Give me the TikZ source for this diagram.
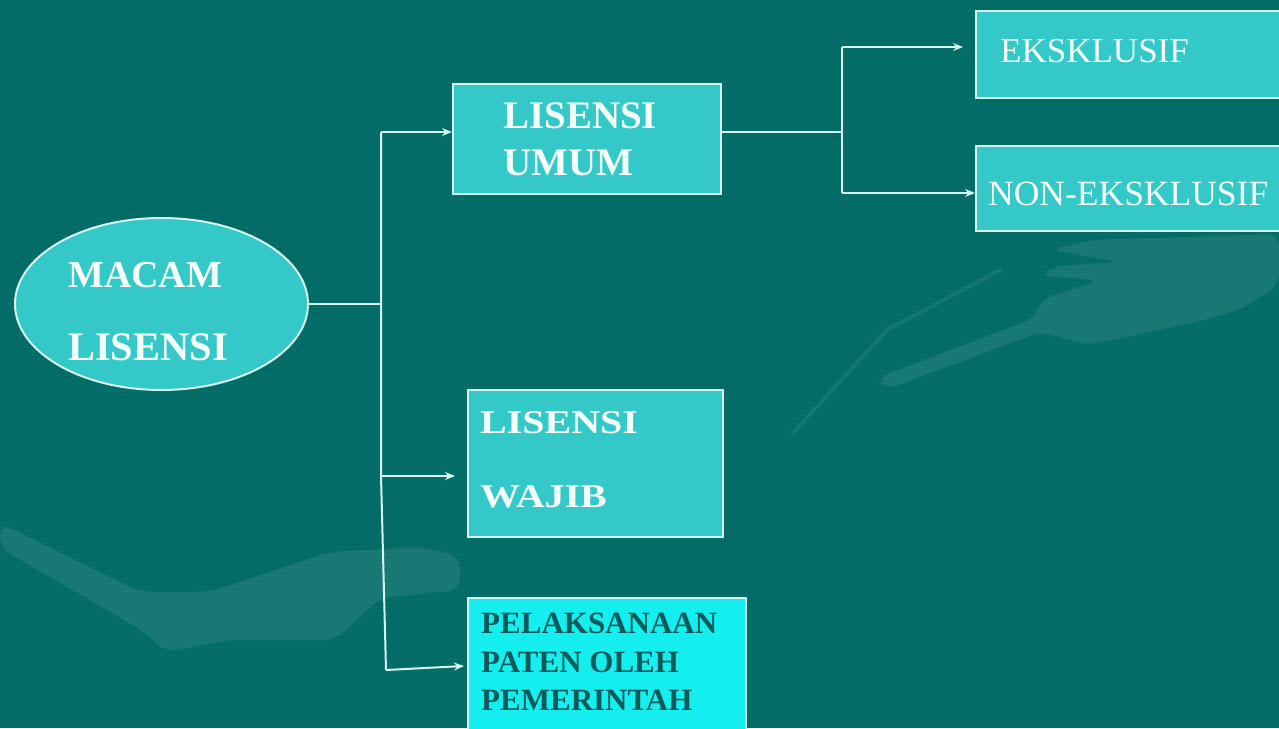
\documentclass[tikz,border=0pt]{standalone}
\usepackage{fontspec}
\setmainfont{Liberation Serif}
\usetikzlibrary{arrows.meta,shapes.geometric}
\definecolor{bg}{RGB}{4,110,105}
\definecolor{boxfill}{RGB}{52,200,200}
\definecolor{brightfill}{RGB}{20,238,238}
\definecolor{edge}{RGB}{214,244,238}
\definecolor{txt}{RGB}{244,255,250}
\definecolor{darktxt}{RGB}{14,90,90}
\tikzset{
  box/.style={draw=edge, line width=2pt, fill=boxfill, rectangle, anchor=north west, inner sep=0pt},
  lbl/.style={anchor=base west, inner sep=0pt, text=txt, font=\bfseries},
  conn/.style={draw=edge, line width=2pt},
  arr/.style={conn, -{Stealth[length=10pt,width=8pt]}},
  swoosh/.style={fill=white, opacity=0.09, rounded corners=12pt}
}
\begin{document}
\begin{tikzpicture}[x=1pt,y=-1pt]
\useasboundingbox (0,0) rectangle (1279,728);
\fill[bg] (0,0) rectangle (1279,728);
% faint stripes
\foreach \yy in {0,4,...,728} {\fill[black, opacity=0.03] (0,\yy) rectangle (1279,\yy+1.5);}
% faint background decoration
\fill[swoosh] (0,523) -- (140,592) -- (210,592) -- (330,552) -- (420,547) -- (460,556) -- (460,590) -- (380,598) -- (335,640) -- (230,640) -- (165,652) -- (145,632) -- (0,548) -- cycle;
\fill[swoosh] (877,378) -- (1035,318) -- (1040,300) -- (1100,280) -- (1040,276) -- (1055,266) -- (1120,262) -- (1050,250) -- (1090,240) -- (1279,234) -- (1279,285) -- (1240,310) -- (1195,322) -- (1090,345) -- (1040,332) -- (885,390) -- cycle;
\draw[white, opacity=0.07, line width=4pt, line cap=round] (793,433) -- (887,330) -- (1000,270);

% nodes
\node[ellipse, draw=edge, line width=2pt, fill=boxfill, minimum width=293pt, minimum height=172pt, inner sep=0pt] (macam) at (161.5,304) {};
\node[lbl, font=\bfseries\fontsize{38}{38}\selectfont] (tmacam1) at (68,287) {MACAM};
\node[lbl, font=\bfseries\fontsize{40.5}{40}\selectfont] (tmacam2) at (68,360) {LISENSI};

\node[box, minimum width=268pt, minimum height=110pt] (umum) at (452,83) {};
\node[lbl, font=\bfseries\fontsize{39}{39}\selectfont] (tumum1) at (503,128) {LISENSI};
\node[lbl, font=\bfseries\fontsize{39}{39}\selectfont] (tumum2) at (503,175) {UMUM};

\node[box, minimum width=255pt, minimum height=147pt] (wajib) at (467,389) {};
\node[lbl, font=\bfseries\fontsize{40}{40}\selectfont] (twajib1) at (480,433) {\scalebox{1}[0.83]{LISENSI}};
\node[lbl, font=\bfseries\fontsize{40}{40}\selectfont] (twajib2) at (480,507) {\scalebox{1}[0.83]{WAJIB}};

\node[box, fill=brightfill, minimum width=278pt, minimum height=140pt] (pel) at (467,597) {};
\node[lbl, text=darktxt, font=\bfseries\fontsize{31}{31}\selectfont] (tpel1) at (481,633) {PELAKSANAAN};
\node[lbl, text=darktxt, font=\bfseries\fontsize{31}{31}\selectfont] (tpel2) at (481,672) {PATEN OLEH};
\node[lbl, text=darktxt, font=\bfseries\fontsize{31}{31}\selectfont] (tpel3) at (481,710) {PEMERINTAH};

\node[box, minimum width=330pt, minimum height=87pt] (eks) at (975,10) {};
\node[lbl, font=\fontsize{35}{35}\selectfont] (teks) at (1000,62) {EKSKLUSIF};

\node[box, minimum width=330pt, minimum height=85pt] (non) at (975,145) {};
\node[lbl, font=\fontsize{35.5}{35}\selectfont] (tnon) at (988,205) {NON-EKSKLUSIF};

% connectors
\coordinate (j1) at (381,304);
\coordinate (jtop) at (381,132);
\coordinate (jmid) at (381,476);
\coordinate (jbot) at (386,670);
\coordinate (awajib) at (455,476);
\coordinate (apel) at (464,666);
\coordinate (j2) at (842,132);
\coordinate (j2top) at (842,47);
\coordinate (j2bot) at (842,193);
\coordinate (aeks) at (963,47);

\draw[conn] (macam.east) -- (j1);
\draw[conn] (jtop) -- (jmid) -- (jbot);
\draw[arr] (jtop) -- (umum.west |- jtop);
\draw[arr] (jmid) -- (awajib);
\draw[arr] (jbot) -- (apel);
\draw[conn] (umum.east |- j2) -- (j2);
\draw[conn] (j2top) -- (j2bot);
\draw[arr] (j2top) -- (aeks);
\draw[arr] (j2bot) -- (non.west |- j2bot);
\end{tikzpicture}
\end{document}
